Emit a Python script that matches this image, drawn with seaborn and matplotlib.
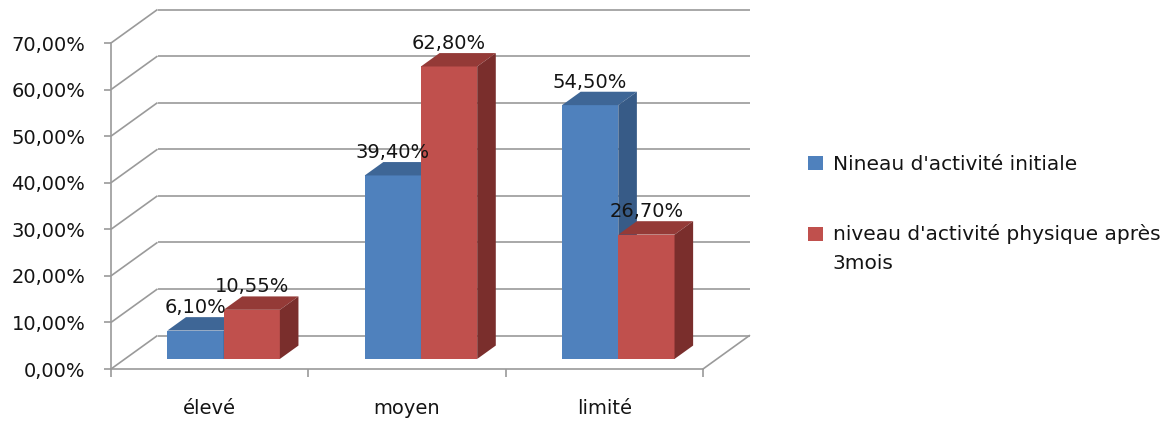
import numpy as np
import pandas as pd
import matplotlib
matplotlib.use("Agg")
import matplotlib.pyplot as plt
import seaborn as sns
from matplotlib.patches import Polygon
from matplotlib.ticker import FuncFormatter

# ---------------- data ----------------
categories = ["élevé", "moyen", "limité"]
series_names = ["Nineau d'activité initiale",
                "niveau d'activité physique après\n3mois"]
initial = [6.10, 39.40, 54.50]
after = [10.55, 62.80, 26.70]
y_ticks = [0, 10, 20, 30, 40, 50, 60, 70]

df = pd.DataFrame({
    "cat": categories * 2,
    "serie": [series_names[0]] * len(categories) + [series_names[1]] * len(categories),
    "val": initial + after,
})

# ---------------- style ----------------
sns.set_style("white")
plt.rcParams["font.family"] = ["DejaVu Sans"]

FS = 14
LFS = 14.5
GRID = "#9a9a9a"
TXT = "#141414"
front_cols = ["#4F81BD", "#C0504D"]
top_cols = ["#3E6696", "#943A37"]
side_cols = ["#375B87", "#7A2E2C"]

W, H = 1169, 423
fig = plt.figure(figsize=(W / 100, H / 100), dpi=100)
ax_left, ax_right, ax_bottom, ax_top = 111, 703, 369, 43
ax = fig.add_axes([ax_left / W, (H - ax_bottom) / H,
                   (ax_right - ax_left) / W, (ax_bottom - ax_top) / H])

sns.barplot(data=df, x="cat", y="val", hue="serie", palette=front_cols,
            width=0.57, saturation=1, errorbar=None, ax=ax, linewidth=0)

ax.set_xlim(-0.5, 2.5)
ax.set_ylim(0, 70)

# depth vector (pixels -> data units)
px_per_x = (ax_right - ax_left) / 3.0
px_per_y = (ax_bottom - ax_top) / 70.0
DX = 46.5 / px_per_x
DY = 33.5 / px_per_y
f0, f1 = 0.3, 0.7

# back wall / side wall grid
for t in y_ticks:
    ax.plot([-0.5, -0.5 + DX], [t, t + DY], color=GRID, lw=1.2,
            clip_on=False, zorder=1, solid_capstyle="butt")
    ax.plot([-0.5 + DX, 2.5 + DX], [t + DY, t + DY], color=GRID, lw=1.2,
            clip_on=False, zorder=1, solid_capstyle="butt")
ax.plot([2.5, 2.5 + DX], [0, DY], color=GRID, lw=1.2, clip_on=False, zorder=1)

# 3D bars
for si, cont in enumerate(ax.containers):
    for bar in cont:
        x0 = bar.get_x()
        w = bar.get_width()
        h = bar.get_height()
        xf = x0 + f0 * DX
        yf = f0 * DY
        bar.set_x(xf)
        bar.set_y(yf)
        bar.set_clip_on(False)
        bar.set_zorder(2 + si * 0.5)
        top = Polygon([(xf, h + yf), (xf + w, h + yf),
                       (x0 + w + f1 * DX, h + f1 * DY), (x0 + f1 * DX, h + f1 * DY)],
                      closed=True, facecolor=top_cols[si], edgecolor="none",
                      clip_on=False, zorder=2.1 + si * 0.5)
        side = Polygon([(xf + w, yf), (x0 + w + f1 * DX, f1 * DY),
                        (x0 + w + f1 * DX, h + f1 * DY), (xf + w, h + yf)],
                       closed=True, facecolor=side_cols[si], edgecolor="none",
                       clip_on=False, zorder=2.1 + si * 0.5)
        ax.add_patch(top)
        ax.add_patch(side)
        ax.annotate(f"{h:.2f}".replace(".", ",") + "%",
                    xy=(xf + w / 2, h + yf), xytext=(0, 16.5),
                    textcoords="offset points", ha="center", va="center",
                    fontsize=FS, color=TXT, zorder=5, annotation_clip=False)

# axes styling
for s in ["top", "right"]:
    ax.spines[s].set_visible(False)
for s in ["left", "bottom"]:
    ax.spines[s].set_color(GRID)
    ax.spines[s].set_linewidth(1.2)
    ax.spines[s].set_zorder(1)

ax.set_yticks(y_ticks)
ax.yaxis.set_major_formatter(FuncFormatter(lambda v, p: f"{v:.2f}".replace(".", ",") + "%"))
ax.tick_params(axis="y", length=5, width=1.2, color=GRID, pad=13.5,
               labelsize=FS, labelcolor=TXT, left=True)
ax.set_xticks(range(len(categories)))
ax.set_xticklabels(categories)
ax.set_xticks([-0.5, 0.5, 1.5, 2.5], minor=True)
ax.tick_params(axis="x", which="major", length=0, pad=21.5, labelsize=FS, labelcolor=TXT)
ax.tick_params(axis="x", which="minor", length=6, width=1.2, color=GRID, bottom=True)
ax.set_xlabel("")
ax.set_ylabel("")
ax.grid(False)

# legend
handles, labels = ax.get_legend_handles_labels()
if ax.get_legend() is not None:
    ax.get_legend().remove()
LS = 1.65
leg = fig.legend(handles, labels, loc="upper left",
                 bbox_to_anchor=(808 / W, (H - 155) / H), frameon=False,
                 fontsize=LFS, handlelength=0.72, handleheight=0.68,
                 handletextpad=0.5, labelspacing=2.5, borderpad=0,
                 borderaxespad=0, labelcolor=TXT)
for t, hnd in zip(leg.get_texts(), leg.legend_handles):
    t.set_linespacing(LS)
    n_lines = t.get_text().count("\n") + 1
    if n_lines > 1:
        # align the key with the first line of a multi-line label
        hnd.set_y(hnd.get_y() + (n_lines - 1) * LS * LFS * 1.0 / 2 * 0.9)

fig.savefig("out.png", dpi=100, facecolor="white")
